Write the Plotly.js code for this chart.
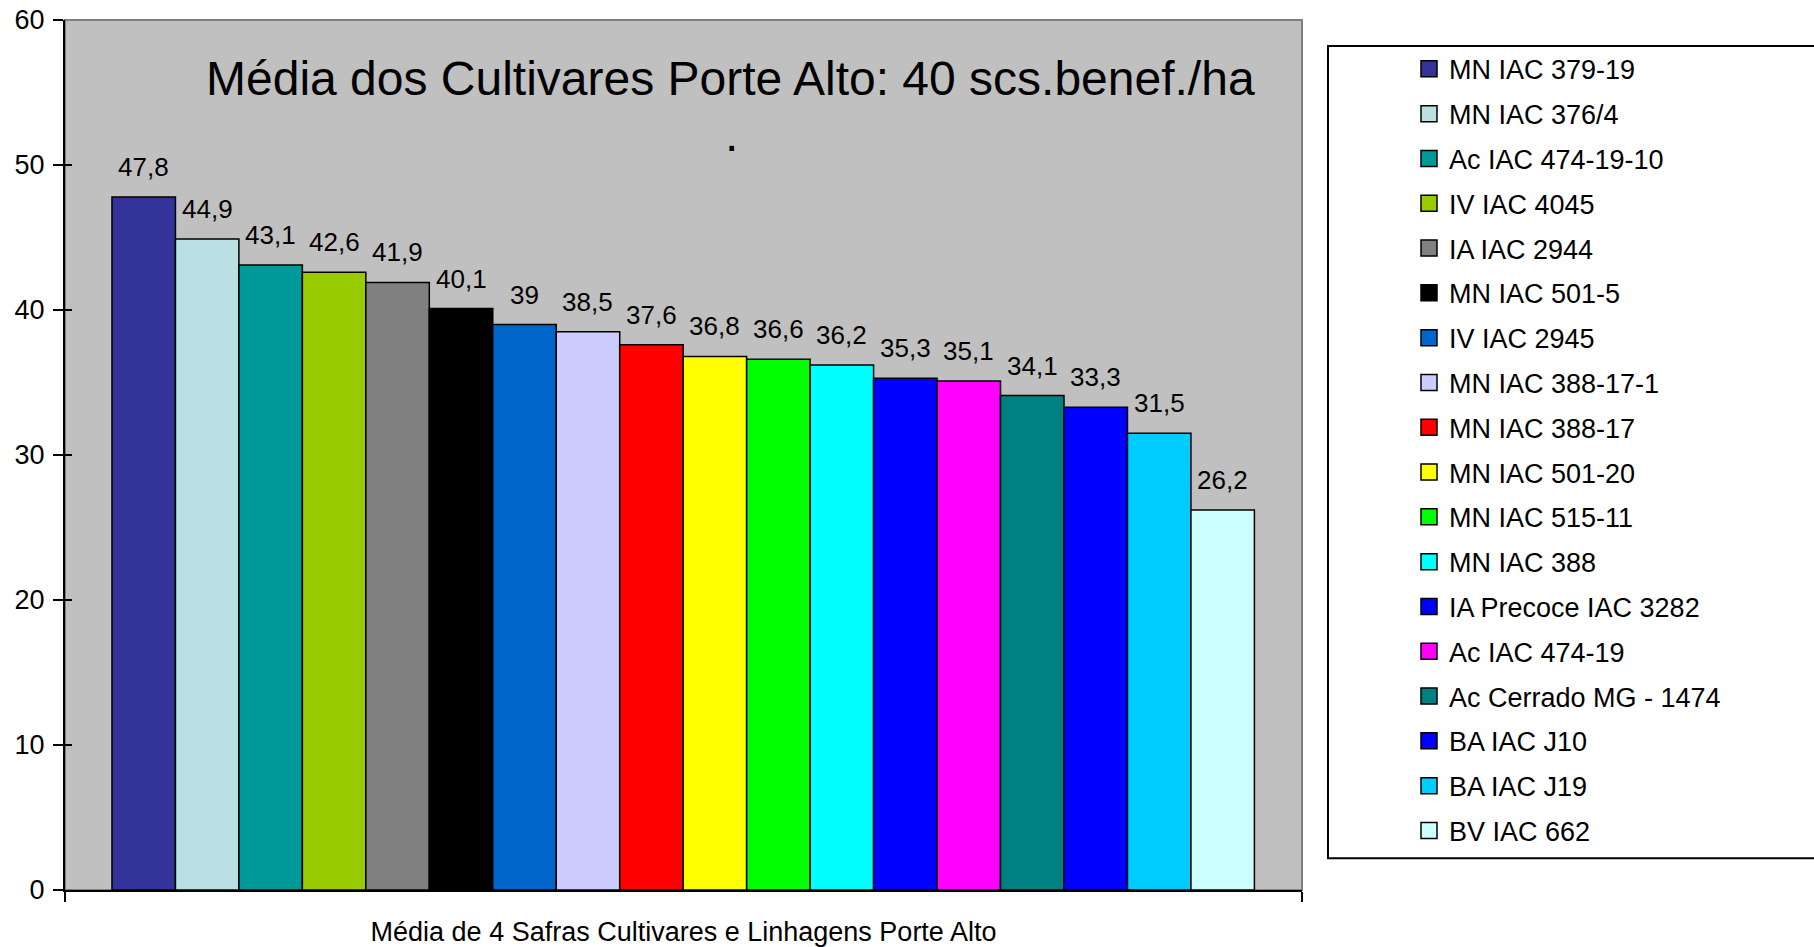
<!DOCTYPE html>
<html>
<head>
<meta charset="utf-8">
<script src="https://cdn.plot.ly/plotly-3.0.1.min.js"></script>
<style>html,body{margin:0;padding:0;background:#fff;}</style>
</head>
<body>
<div id="chart" style="width:1814px;height:947px;"></div>
<script>
// ---- data ----
const cultivares = [
  'MN IAC 379-19', 'MN IAC 376/4', 'Ac IAC 474-19-10', 'IV IAC 4045', 'IA IAC 2944',
  'MN IAC 501-5', 'IV IAC 2945', 'MN IAC 388-17-1', 'MN IAC 388-17', 'MN IAC 501-20',
  'MN IAC 515-11', 'MN IAC 388', 'IA Precoce IAC 3282', 'Ac IAC 474-19',
  'Ac Cerrado MG - 1474', 'BA IAC J10', 'BA IAC J19', 'BV IAC 662'
];
const medias = [47.8, 44.9, 43.1, 42.6, 41.9, 40.1, 39, 38.5, 37.6, 36.8, 36.6, 36.2, 35.3, 35.1, 34.1, 33.3, 31.5, 26.2];
const cores = [
  '#333399', '#BBE0E3', '#009999', '#99CC00', '#808080',
  '#000000', '#0066CC', '#CCCCFF', '#FF0000', '#FFFF00',
  '#00FF00', '#00FFFF', '#0000FF', '#FF00FF',
  '#008080', '#0000FF', '#00CCFF', '#CCFFFF'
];
const tituloGrafico = 'Média dos Cultivares Porte Alto: 40 scs.benef./ha';
const subtituloGrafico = '.';
const tituloEixoX = 'Média de 4 Safras Cultivares e Linhagens Porte Alto';
const yTicks = [0, 10, 20, 30, 40, 50, 60];

const fmt = v => String(v).replace('.', ',');
const FONT = 'Liberation Sans, Arial, Helvetica, sans-serif';

// ---- traces ----
const barras = {
  type: 'bar',
  x: cultivares,
  y: medias,
  marker: { color: cores, line: { color: '#000000', width: 1.5 } },
  showlegend: false,
  hoverinfo: 'x+y'
};

const legendaTraces = cultivares.map((c, i) => ({
  type: 'scatter',
  mode: 'markers',
  x: [null],
  y: [null],
  name: c,
  legendgroup: 'g' + i,
  xaxis: i === 0 ? 'x2' : 'x',
  yaxis: i === 1 ? 'y2' : 'y',
  marker: { symbol: 'square', size: 16, color: cores[i], line: { color: '#000000', width: 1.5 } },
  hoverinfo: 'skip'
}));

const rotulos = cultivares.map((c, i) => ({
  x: c, y: medias[i], xref: 'x', yref: 'y',
  text: fmt(medias[i]),
  showarrow: false, yanchor: 'bottom', xanchor: 'center', yshift: 13,
  font: { family: FONT, size: 26, color: '#000' }
}));

const layout = {
  width: 1814, height: 947,
  margin: { l: 65, r: 512, t: 20, b: 57, pad: 0 },
  paper_bgcolor: '#FFFFFF',
  plot_bgcolor: '#C0C0C0',
  font: { family: FONT, color: '#000000', size: 26 },
  bargap: 0,
  showlegend: true,
  xaxis: {
    type: 'category', range: [-1.24, 18.25], fixedrange: true,
    showgrid: false, zeroline: false,
    showline: true, linecolor: '#000', linewidth: 2,
    tickmode: 'array', tickvals: [-1.239, 18.249], ticktext: ['', ''],
    ticks: 'outside', ticklen: 10, tickwidth: 1.5, tickcolor: '#000',
    showticklabels: false,
    title: { text: tituloEixoX, font: { family: FONT, size: 27, color: '#000' }, standoff: 22 }
  },
  yaxis: {
    range: [0, 60], fixedrange: true,
    tickmode: 'array', tickvals: yTicks,
    ticks: 'outside', ticklen: 10, tickwidth: 1.5, tickcolor: '#000',
    showline: true, linecolor: '#000', linewidth: 2,
    showgrid: false, zeroline: false,
    tickfont: { family: FONT, size: 27, color: '#000' },
    ticklabelstandoff: 3
  },
  xaxis2: {
    overlaying: 'x', anchor: 'y', type: 'linear', range: [-1.24, 18.25], fixedrange: true,
    tickmode: 'array', tickvals: [-1.239, 18.249],
    ticks: 'inside', ticklen: 7, tickwidth: 1.5, tickcolor: '#000',
    showticklabels: false, showgrid: false, zeroline: false, showline: false
  },
  yaxis2: {
    overlaying: 'y', anchor: 'x', side: 'left', range: [0, 60], fixedrange: true,
    tickmode: 'array', tickvals: yTicks,
    ticks: 'inside', ticklen: 7, tickwidth: 1.5, tickcolor: '#000',
    showticklabels: false, showgrid: false, zeroline: false, showline: false
  },
  legend: {
    x: 1.0865, y: 0.9715, xanchor: 'left', yanchor: 'top',
    bgcolor: 'rgba(0,0,0,0)', borderwidth: 0,
    font: { family: FONT, size: 27, color: '#000' },
    tracegroupgap: 6.7,
    traceorder: 'grouped'
  },
  shapes: [
    { type: 'rect', xref: 'paper', yref: 'paper', x0: 0, x1: 1, y0: 0, y1: 1,
      line: { color: '#808080', width: 2 }, fillcolor: 'rgba(0,0,0,0)', layer: 'below' },
    { type: 'rect', xref: 'paper', yref: 'paper', x0: 1.021, x1: 1.46, y0: 0.0364, y1: 0.9701,
      line: { color: '#000000', width: 2 }, fillcolor: '#FFFFFF', layer: 'below' }
  ],
  annotations: [
    { xref: 'paper', yref: 'paper', x: 0.5376, y: 0.9329, xanchor: 'center', yanchor: 'middle',
      text: tituloGrafico, showarrow: false, font: { family: FONT, size: 48, color: '#000' } },
    { xref: 'paper', yref: 'paper', x: 0.5388, y: 0.8685, xanchor: 'center', yanchor: 'middle',
      text: subtituloGrafico, showarrow: false, font: { family: FONT, size: 48, color: '#000' } }
  ].concat(rotulos)
};

Plotly.newPlot('chart', [barras].concat(legendaTraces), layout, { displayModeBar: false, staticPlot: true });
</script>
</body>
</html>
